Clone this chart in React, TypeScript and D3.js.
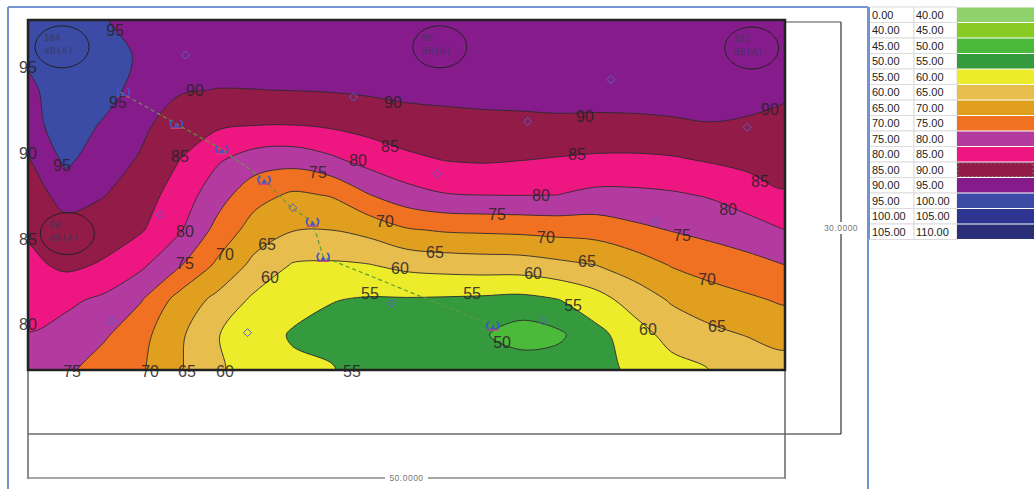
import React from 'react';
import * as d3 from 'd3';

const W = 1034;
const H = 489;

// grid positions in metres (site plan 50 x 30)
const gridX = [0, 2.5, 5, 7.5, 10, 12.5, 15, 17.5, 20, 22.5, 25, 27.5, 30, 32.5, 35, 37.5, 40, 42.5, 45, 47.5, 50];
const gridY = [0, 3, 6, 9, 12, 15, 18, 21, 24, 27, 30];

// noise level dB(A) read at each grid node, one row per gridY (top to bottom)
const noiseRows = [
  [97.7, 97.5, 95.1, 94.3, 93.8, 93.5, 93.5, 93.5, 93.5, 93.5, 93.5, 93.5, 93.5, 93.5, 93.5, 93.5, 93.5, 93.5, 93.5, 93.0, 93.0],
  [95.7, 97.5, 96.5, 94.5, 92.5, 92.0, 92.0, 92.0, 92.0, 92.5, 92.7, 92.8, 92.8, 93.0, 93.0, 93.0, 93.0, 93.0, 93.0, 92.7, 92.3],
  [94.2, 97.0, 96.5, 93.5, 90.4, 89.9, 89.95, 90.1, 90.3, 90.7, 91.2, 91.3, 91.5, 91.5, 91.8, 91.8, 91.8, 91.9, 92.1, 91.8, 90.7],
  [93.5, 97.0, 94.6, 90.9, 87.7, 85.8, 85.1, 85.0, 85.7, 86.8, 87.9, 88.5, 88.8, 89.0, 89.1, 89.0, 89.1, 89.4, 89.8, 89.4, 88.8],
  [89.6, 96.0, 92.1, 89.5, 85.0, 80.6, 77.5, 76.9, 79.0, 81.8, 83.9, 85.1, 85.5, 85.1, 84.6, 84.1, 84.0, 84.4, 85.4, 86.3, 86.8],
  [87.7, 91.7, 90.2, 87.2, 82.8, 77.1, 71.8, 69.2, 70.3, 74.8, 78.0, 79.7, 80.0, 80.1, 80.0, 78.8, 78.9, 79.4, 80.4, 82.5, 84.6],
  [85.7, 88.4, 87.2, 85.4, 80.6, 73.5, 67.7, 65.2, 65.0, 66.5, 69.5, 70.5, 70.8, 71.1, 71.6, 72.0, 73.8, 75.2, 76.4, 77.9, 80.0],
  [83.8, 86.0, 84.5, 80.9, 75.5, 69.1, 63.6, 59.6, 59.3, 59.8, 61.3, 62.0, 62.4, 62.6, 63.8, 65.0, 67.4, 70.3, 72.0, 73.3, 75.0],
  [81.8, 81.0, 79.0, 75.2, 68.1, 63.7, 58.9, 56.8, 55.2, 54.5, 54.5, 54.3, 54.0, 53.5, 54.8, 57.9, 62.1, 65.5, 67.7, 69.2, 70.6],
  [79.8, 78.2, 75.7, 71.5, 65.9, 60.2, 57.3, 54.5, 53.5, 53.0, 52.5, 51.8, 50.6, 47.5, 49.0, 53.5, 57.5, 61.8, 63.7, 65.2, 66.7],
  [77.9, 76.0, 72.5, 70.5, 65.5, 60.4, 58.6, 56.0, 55.4, 52.5, 52.0, 52.0, 52.0, 53.5, 52.8, 53.5, 55.8, 58.1, 60.0, 61.3, 62.8],
];

// legend bands
const bandLow = [0, 40, 45, 50, 55, 60, 65, 70, 75, 80, 85, 90, 95, 100, 105];
const bandHigh = [40, 45, 50, 55, 60, 65, 70, 75, 80, 85, 90, 95, 100, 105, 110];
const bandColors = ['#8fd16a', '#88cb25', '#4bb939', '#349a3d', '#ecec2b', '#e7bd4d', '#e09f1f', '#f07121', '#b33b9f', '#ee1681', '#921b47', '#861c8c', '#3b4ba6', '#2d3590', '#2b2f78'];
const lineLevels = [50, 55, 60, 65, 70, 75, 80, 85, 90, 95];

// measurement points (m)
const receivers = [
  [10.4, 3.0], [21.5, 6.6], [33.0, 8.7], [38.5, 5.1], [47.5, 9.2], [27.0, 13.2], [8.7, 16.7],
  [17.5, 16.1], [41.5, 17.3], [5.5, 25.8], [14.5, 26.8], [24.0, 24.3], [34.0, 25.8],
];
// noise sources (m)
const sources = [
  [6.3, 6.2], [9.8, 8.9], [12.8, 11.1], [15.6, 13.7], [18.8, 17.3], [19.5, 20.3], [30.7, 26.2],
];
// dashed route (m)
const routeX = [6.1, 9.8, 12.8, 15.6, 17.4, 18.8, 19.5, 30.7];
const routeY = [6.2, 8.9, 11.1, 13.7, 16.1, 17.3, 20.3, 26.2];

// measured level annotations
const noteLevel = [104, 99, 102, 94];
const noteX = [2.25, 27.2, 47.8, 2.6];
const noteY = [2.3, 2.3, 2.4, 18.3];

// contour labels: value, x (m), y (m)
const labelValue = [95, 95, 95, 90, 90, 95, 85, 90, 85, 80, 75, 90, 85, 80, 75, 70, 65, 60, 55, 55, 55, 50, 60, 65, 70, 75, 80, 70, 60, 65, 90, 85, 80, 75, 70, 65, 60, 85, 80, 75, 70, 65, 60, 55];
const labelX = [5.75, 0.0, 5.94, 11.03, 0.0, 2.25, 10.04, 24.11, 23.91, 21.8, 19.15, 36.79, 36.26, 33.88, 30.98, 34.21, 26.88, 24.57, 22.59, 29.33, 36.0, 31.31, 15.98, 15.79, 13.01, 10.37, 10.37, 23.58, 33.36, 36.92, 49.01, 48.35, 46.24, 43.2, 44.85, 45.51, 40.95, 0.0, 0.0, 2.91, 8.06, 10.5, 13.01, 21.4];
const labelY = [0.94, 4.03, 7.11, 6.08, 11.48, 12.51, 11.74, 7.11, 10.88, 12.0, 13.03, 8.31, 11.57, 15.0, 16.71, 18.6, 19.97, 21.34, 23.48, 23.48, 24.51, 27.6, 22.11, 19.28, 20.14, 20.83, 18.17, 17.31, 21.77, 20.74, 7.71, 13.88, 16.28, 18.43, 22.28, 26.31, 26.57, 18.85, 26.14, 30.17, 30.17, 30.17, 30.17, 30.17];

const PX0 = 28, PX1 = 785, PY0 = 20, PY1 = 370;

export default function App() {
  const xs = d3.scaleLinear().domain([0, 50]).range([PX0, PX1]);
  const ys = d3.scaleLinear().domain([0, 30]).range([PY0, PY1]);
  const nx = gridX.length;
  const ny = gridY.length;
  const xi = d3.scaleLinear().domain([0.5, nx - 0.5]).range([xs(gridX[0]), xs(gridX[nx - 1])]);
  const yi = d3.scaleLinear().domain([0.5, ny - 0.5]).range([ys(gridY[0]), ys(gridY[ny - 1])]);
  const values = noiseRows.flat();
  const contours = d3.contours().size([nx, ny]).thresholds(bandLow)(values);
  const line = d3.line().curve(d3.curveCatmullRomClosed.alpha(0.5));
  const toPath = (mp: any) =>
    mp.coordinates
      .map((poly: any) =>
        poly
          .map((ring: any) => line(ring.slice(0, -1).map(([cx, cy]: number[]) => [xi(cx), yi(cy)]) as any) || '')
          .join('')
      )
      .join('');

  const routeLine = d3.line<number>().x((_, i) => xs(routeX[i])).y((_, i) => ys(routeY[i]));

  const rowH = 15.5;
  const legTop = 7;

  return (
    <svg width={W} height={H} style={{ position: 'absolute', left: 0, top: 0, background: '#fff' }}>
      <defs>
        <clipPath id="plotClip">
          <rect x={PX0} y={PY0} width={PX1 - PX0} height={PY1 - PY0} />
        </clipPath>
      </defs>

      {/* outer frame */}
      <line x1={8} y1={7} x2={868} y2={7} stroke="#7394d0" strokeWidth={2} />
      <line x1={8} y1={7} x2={8} y2={H} stroke="#7394d0" strokeWidth={2} />
      <line x1={868} y1={7} x2={868} y2={H} stroke="#7394d0" strokeWidth={2} />

      {/* dimension lines */}
      <line x1={PX1} y1={22} x2={841} y2={22} stroke="#888" strokeWidth={1.5} />
      <line x1={841} y1={22} x2={841} y2={434} stroke="#333" strokeWidth={1.2} />
      <line x1={PX0} y1={434} x2={841} y2={434} stroke="#222" strokeWidth={1.2} />
      <line x1={PX0} y1={PY1} x2={PX0} y2={479} stroke="#666" strokeWidth={1.5} />
      <line x1={PX1} y1={PY1} x2={PX1} y2={479} stroke="#666" strokeWidth={1.5} />
      <line x1={PX0} y1={478} x2={PX1} y2={478} stroke="#888" strokeWidth={1.5} />
      <rect x={385} y={472} width={43} height={12} fill="#fff" />
      <text x={406.5} y={481} textAnchor="middle" fontFamily="Liberation Sans, Arial" fontSize={8.5} fill="#777" letterSpacing={0.5}>50.0000</text>
      <rect x={821} y={222} width={40} height={12} fill="#fff" />
      <text x={841} y={231} textAnchor="middle" fontFamily="Liberation Sans, Arial" fontSize={8.5} fill="#777" letterSpacing={0.5}>30.0000</text>

      {/* filled contours */}
      <g clipPath="url(#plotClip)">
        {contours.map((c: any, i: number) => (
          <path key={'f' + i} d={toPath(c)} fill={bandColors[i]} fillRule="evenodd" stroke="none" />
        ))}
        {contours
          .filter((c: any) => lineLevels.includes(c.value))
          .map((c: any, i: number) => (
            <path key={'l' + i} d={toPath(c)} fill="none" stroke="#2f2a2f" strokeWidth={0.9} />
          ))}
      </g>

      {/* plot border */}
      <rect x={PX0} y={PY0} width={PX1 - PX0} height={PY1 - PY0} fill="none" stroke="#222" strokeWidth={2.5} />

      {/* annotations */}
      {noteLevel.map((v, i) => {
        const cx = xs(noteX[i]);
        const cy = ys(noteY[i]);
        return (
          <g key={'n' + i}>
            <ellipse cx={cx} cy={cy} rx={27} ry={21} fill="none" stroke="#222" strokeWidth={1} />
            <text x={cx - 18} y={cy - 6} fontFamily="DejaVu Sans Mono, monospace" fontSize={9} fill="#3a3a5a" opacity={0.85}>{v}</text>
            <text x={cx - 18} y={cy + 7} fontFamily="DejaVu Sans Mono, monospace" fontSize={9} fill="#3a3a5a" opacity={0.85} letterSpacing={0.5}>dB(A)</text>
          </g>
        );
      })}

      {/* route */}
      <path d={routeLine(routeX) || ''} fill="none" stroke="#5f9a3a" strokeWidth={1.2} strokeDasharray="4,3" />

      {/* receivers */}
      {receivers.map(([x, y], i) => {
        const cx = xs(x);
        const cy = ys(y);
        return (
          <path key={'r' + i} d={`M${cx},${cy - 4}L${cx + 4},${cy}L${cx},${cy + 4}L${cx - 4},${cy}Z`} fill="none" stroke="#5563c8" strokeWidth={1} />
        );
      })}

      {/* sources */}
      {sources.map(([x, y], i) => {
        const cx = xs(x);
        const cy = ys(y);
        return (
          <g key={'s' + i} transform={`translate(${cx},${cy})`}>
            <path d="M-4,-4 Q-8,0 -4,4" fill="none" stroke="#4456c4" strokeWidth={1.6} />
            <path d="M4,-4 Q8,0 4,4" fill="none" stroke="#4456c4" strokeWidth={1.6} />
            <path d="M-3,4 L0,-1 L3,4 Z" fill="#4456c4" />
            <line x1={-6} y1={4.5} x2={6} y2={4.5} stroke="#d0407a" strokeWidth={1.1} />
          </g>
        );
      })}

      {/* contour labels */}
      {labelValue.map((v, i) => (
        <text
          key={'t' + i}
          x={xs(labelX[i])}
          y={ys(labelY[i])}
          textAnchor="middle"
          dominantBaseline="central"
          fontFamily="Liberation Sans, Arial, sans-serif"
          fontSize={16}
          fill="#2a2226"
          opacity={0.85}
        >
          {v}
        </text>
      ))}

      {/* legend */}
      {bandLow.map((lo, i) => {
        const y = legTop + i * rowH;
        return (
          <g key={'g' + i}>
            <rect x={869} y={y} width={45} height={rowH} fill="#fff" stroke="#dcdcdc" strokeWidth={1} />
            <rect x={914} y={y} width={43} height={rowH} fill="#fff" stroke="#dcdcdc" strokeWidth={1} />
            <rect x={957} y={y + 0.5} width={77} height={rowH - 1} fill={bandColors[i]} />
            <text x={872} y={y + 11.5} fontFamily="Liberation Sans, Arial" fontSize={11} fill="#222">{lo.toFixed(2)}</text>
            <text x={916} y={y + 11.5} fontFamily="Liberation Sans, Arial" fontSize={11} fill="#222">{bandHigh[i].toFixed(2)}</text>
            {lo === 85 && (
              <rect x={958} y={y + 1} width={75} height={rowH - 2} fill="none" stroke="#888" strokeWidth={0.8} strokeDasharray="2,2" />
            )}
          </g>
        );
      })}
      <line x1={869} y1={legTop} x2={869} y2={legTop + rowH * 15} stroke="#7394d0" strokeWidth={2} />
    </svg>
  );
}
